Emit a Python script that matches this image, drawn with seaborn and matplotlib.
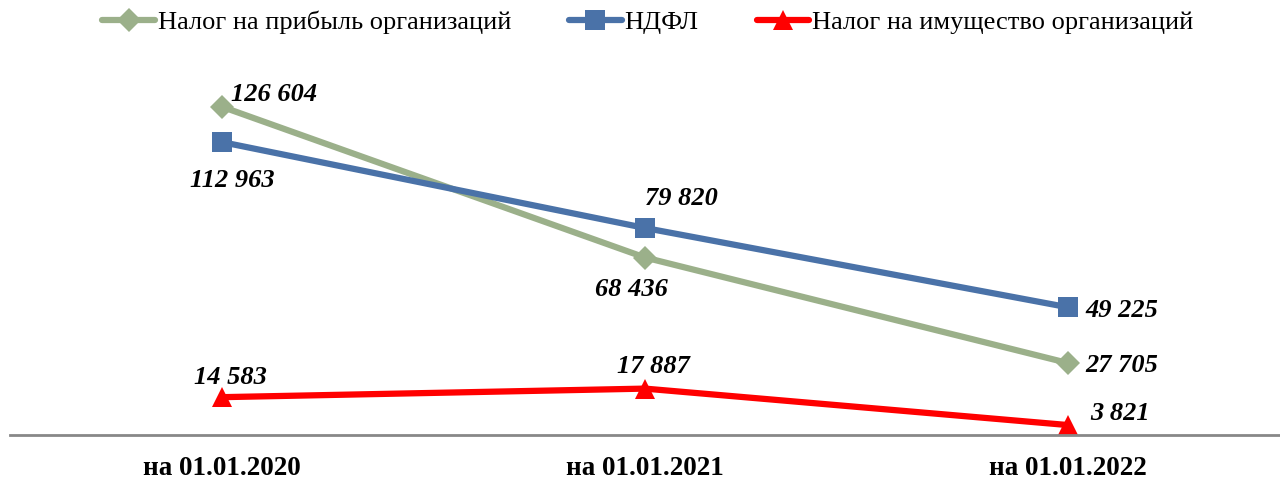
import matplotlib
matplotlib.use('Agg')
import matplotlib.pyplot as plt
import seaborn as sns

# Data
dates = ['на 01.01.2020', 'на 01.01.2021', 'на 01.01.2022']
profit_tax = [126604, 68436, 27705]
ndfl = [112963, 79820, 49225]
property_tax = [14583, 17887, 3821]

series_names = ['Налог на прибыль организаций', 'НДФЛ', 'Налог на имущество организаций']

sns.set_theme(style='white')
plt.rcParams['font.family'] = ['Liberation Serif', 'DejaVu Serif']
plt.rcParams['text.color'] = 'black'

fig = plt.figure(figsize=(12.8, 4.79), dpi=100)
ax = fig.add_axes([10 / 1280, 44 / 479, 1 - 10 / 1280, 0.758])

styles = [
    (profit_tax, '#9BB08A', 'D', 12),
    (ndfl, '#4A72A8', 's', 14),
    (property_tax, '#FF0000', '^', 14),
]

x = list(range(len(dates)))
for name, (vals, color, marker, ms) in zip(series_names, styles):
    sns.lineplot(x=x, y=vals, ax=ax, color=color, linewidth=4.5, marker=marker,
                 markersize=ms, markeredgewidth=0, label=name)

# label offsets (points) for each value
offsets = [
    [(1, 9), (-42, -23), (6, -2)],
    [(-29, -28), (-6, 21), (6, -2)],
    [(-26, 14), (-26, 16), (10, 8)],
]
all_vals = [profit_tax, ndfl, property_tax]
for vals, offs in zip(all_vals, offsets):
    for i, v in enumerate(vals):
        dx, dy = offs[i]
        txt = f'{v:,}'.replace(',', ' ')
        ax.annotate(txt, (i, v), xytext=(dx + 6, dy), textcoords='offset points',
                    ha='left', va='center', fontsize=19, fontweight='bold',
                    fontstyle='italic', color='black')

ax.set_xlim(-0.5, 2.5)
ax.set_ylim(0, 140000)
ax.set_xticks(x)
ax.set_xticklabels(dates, fontsize=19.5, fontweight='bold', color='black')
ax.tick_params(axis='x', length=0, pad=15)
ax.set_yticks([])
ax.set_xlabel('')
ax.set_ylabel('')
for side in ['top', 'right', 'left']:
    ax.spines[side].set_visible(False)
ax.spines['bottom'].set_color('#888888')
ax.spines['bottom'].set_linewidth(2)

leg = ax.legend(loc='center', bbox_to_anchor=(0.506, 0.954), bbox_transform=fig.transFigure,
                ncol=3, frameon=False, fontsize=19, handlelength=2.0, handletextpad=0.1,
                columnspacing=2.2)
for t in leg.get_texts():
    t.set_color('black')

fig.savefig('out.png', dpi=100)
